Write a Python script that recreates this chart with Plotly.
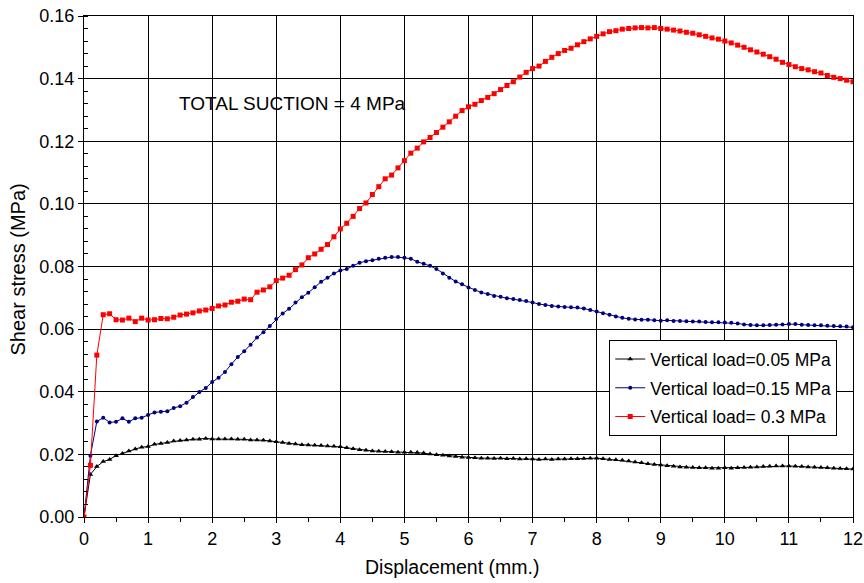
import plotly.graph_objects as go

displacement = [0.0, 0.1, 0.2, 0.3, 0.4, 0.5, 0.6, 0.7, 0.8, 0.9,
                1.0, 1.1, 1.2, 1.3, 1.4, 1.5, 1.6, 1.7, 1.8, 1.9,
                2.0, 2.1, 2.2, 2.3, 2.4, 2.5, 2.6, 2.7, 2.8, 2.9,
                3.0, 3.1, 3.2, 3.3, 3.4, 3.5, 3.6, 3.7, 3.8, 3.9,
                4.0, 4.1, 4.2, 4.3, 4.4, 4.5, 4.6, 4.7, 4.8, 4.9,
                5.0, 5.1, 5.2, 5.3, 5.4, 5.5, 5.6, 5.7, 5.8, 5.9,
                6.0, 6.1, 6.2, 6.3, 6.4, 6.5, 6.6, 6.7, 6.8, 6.9,
                7.0, 7.1, 7.2, 7.3, 7.4, 7.5, 7.6, 7.7, 7.8, 7.9,
                8.0, 8.1, 8.2, 8.3, 8.4, 8.5, 8.6, 8.7, 8.8, 8.9,
                9.0, 9.1, 9.2, 9.3, 9.4, 9.5, 9.6, 9.7, 9.8, 9.9,
                10.0, 10.1, 10.2, 10.3, 10.4, 10.5, 10.6, 10.7, 10.8, 10.9,
                11.0, 11.1, 11.2, 11.3, 11.4, 11.5, 11.6, 11.7, 11.8, 11.9,
                12.0]

load_005 = [0.0, 0.0136, 0.0161, 0.0177, 0.0184, 0.0196, 0.0203, 0.0211, 0.0217, 0.0223,
            0.0225, 0.0232, 0.0235, 0.0238, 0.0243, 0.0244, 0.0246, 0.0248, 0.0248, 0.0251,
            0.0249, 0.0249, 0.0249, 0.0249, 0.0248, 0.0248, 0.0246, 0.0246, 0.0245, 0.0243,
            0.0240, 0.0238, 0.0235, 0.0233, 0.0231, 0.0230, 0.0229, 0.0228, 0.0227, 0.0226,
            0.0224, 0.0221, 0.0218, 0.0215, 0.0213, 0.0211, 0.0210, 0.0209, 0.0208, 0.0207,
            0.0207, 0.0207, 0.0206, 0.0204, 0.0201, 0.0199, 0.0197, 0.0195, 0.0193, 0.0191,
            0.0190, 0.0189, 0.0188, 0.0188, 0.0187, 0.0188, 0.0186, 0.0187, 0.0185, 0.0186,
            0.0185, 0.0184, 0.0185, 0.0184, 0.0185, 0.0185, 0.0186, 0.0186, 0.0187, 0.0188,
            0.0188, 0.0186, 0.0184, 0.0183, 0.0181, 0.0179, 0.0176, 0.0173, 0.0170, 0.0168,
            0.0166, 0.0164, 0.0162, 0.0160, 0.0159, 0.0158, 0.0157, 0.0157, 0.0156, 0.0156,
            0.0157, 0.0156, 0.0157, 0.0158, 0.0159, 0.0160, 0.0161, 0.0162, 0.0163, 0.0163,
            0.0163, 0.0162, 0.0161, 0.0160, 0.0159, 0.0158, 0.0157, 0.0156, 0.0155, 0.0154,
            0.0153]

load_015 = [0.0, 0.0196, 0.0305, 0.0317, 0.0302, 0.0304, 0.0315, 0.0304, 0.0315, 0.0317,
            0.0326, 0.0334, 0.0336, 0.0338, 0.0348, 0.0354, 0.0365, 0.0383, 0.0399, 0.0412,
            0.0431, 0.0445, 0.0463, 0.0488, 0.0511, 0.0529, 0.0550, 0.0573, 0.0590, 0.0610,
            0.0632, 0.0650, 0.0665, 0.0685, 0.0702, 0.0716, 0.0734, 0.0751, 0.0764, 0.0778,
            0.0787, 0.0792, 0.0802, 0.0812, 0.0817, 0.0820, 0.0825, 0.0828, 0.0830, 0.0830,
            0.0828, 0.0825, 0.0815, 0.0809, 0.0802, 0.0792, 0.0778, 0.0764, 0.0752, 0.0743,
            0.0733, 0.0725, 0.0717, 0.0712, 0.0706, 0.0703, 0.0699, 0.0696, 0.0693, 0.0690,
            0.0685, 0.0680, 0.0677, 0.0674, 0.0672, 0.0671, 0.0670, 0.0669, 0.0666, 0.0661,
            0.0656, 0.0651, 0.0646, 0.0640, 0.0636, 0.0633, 0.0631, 0.0630, 0.0630, 0.0628,
            0.0627, 0.0628, 0.0626, 0.0626, 0.0625, 0.0624, 0.0624, 0.0623, 0.0622, 0.0622,
            0.0621, 0.0620, 0.0618, 0.0615, 0.0613, 0.0612, 0.0612, 0.0613, 0.0614, 0.0615,
            0.0616, 0.0616, 0.0614, 0.0613, 0.0612, 0.0612, 0.0611, 0.0610, 0.0609, 0.0608,
            0.0606]

load_030 = [0.0, 0.0165, 0.0517, 0.0646, 0.0649, 0.0630, 0.0629, 0.0635, 0.0624, 0.0635,
            0.0629, 0.0630, 0.0634, 0.0633, 0.0638, 0.0645, 0.0648, 0.0652, 0.0658, 0.0661,
            0.0666, 0.0674, 0.0677, 0.0686, 0.0689, 0.0696, 0.0694, 0.0718, 0.0725, 0.0735,
            0.0755, 0.0763, 0.0772, 0.0790, 0.0805, 0.0828, 0.0840, 0.0855, 0.0870, 0.0895,
            0.0920, 0.0938, 0.0960, 0.0985, 0.1003, 0.1030, 0.1055, 0.1080, 0.1092, 0.1115,
            0.1138, 0.1162, 0.1178, 0.1198, 0.1212, 0.1228, 0.1245, 0.1262, 0.1280, 0.1298,
            0.1310, 0.1318, 0.1330, 0.1340, 0.1352, 0.1365, 0.1378, 0.1390, 0.1405, 0.1420,
            0.1432, 0.1440, 0.1455, 0.1468, 0.1480, 0.1490, 0.1497, 0.1508, 0.1518, 0.1527,
            0.1535, 0.1543, 0.1550, 0.1553, 0.1558, 0.1560, 0.1562, 0.1563, 0.1562, 0.1563,
            0.1560, 0.1558, 0.1555, 0.1552, 0.1548, 0.1545, 0.1540, 0.1535, 0.1530, 0.1526,
            0.1520, 0.1514, 0.1507, 0.1500, 0.1492, 0.1485, 0.1478, 0.1470, 0.1462, 0.1452,
            0.1445, 0.1438, 0.1432, 0.1428, 0.1422, 0.1418, 0.1410, 0.1404, 0.1400, 0.1395,
            0.1390]

series_names = ["Vertical load=0.05 MPa", "Vertical load=0.15 MPa", "Vertical load= 0.3 MPa"]
x_ticks = [0, 1, 2, 3, 4, 5, 6, 7, 8, 9, 10, 11, 12]
y_ticks = [0.00, 0.02, 0.04, 0.06, 0.08, 0.10, 0.12, 0.14, 0.16]
x_title = "Displacement (mm.)"
y_title = "Shear stress (MPa)"
note = "TOTAL SUCTION = 4 MPa"

FONT = "Liberation Sans, Arial, sans-serif"

fig = go.Figure()
styles = [
    (load_005, "#000000", "triangle-up", 5),
    (load_015, "#000080", "circle", 4),
    (load_030, "#FF0000", "square", 5),
]
for i, ((vals, color, sym, size), name) in enumerate(zip(styles, series_names)):
    fig.add_trace(go.Scatter(
        x=displacement, y=vals, name=name, mode="lines+markers",
        legendgroup="g%d" % i,
        line=dict(color=color, width=1),
        marker=dict(color=color, symbol=sym, size=size),
    ))

fig.add_annotation(x=1.45, y=0.1322, xref="x", yref="y", text=note,
                   showarrow=False, xanchor="left", yanchor="middle",
                   font=dict(family=FONT, size=19, color="black"))
# axis titles
fig.add_annotation(x=0.478, y=-0.0998, xref="paper", yref="paper", text=x_title,
                   showarrow=False, xanchor="center", yanchor="middle",
                   font=dict(family=FONT, size=19.5, color="black"))
fig.add_annotation(x=-0.0871, y=0.494, xref="paper", yref="paper", text=y_title,
                   showarrow=False, xanchor="center", yanchor="middle", textangle=-90,
                   font=dict(family=FONT, size=20, color="black"))

fig.update_layout(
    width=864, height=583,
    margin=dict(l=84, r=11, t=16, b=66),
    paper_bgcolor="white", plot_bgcolor="white",
    font=dict(family=FONT, size=18, color="black"),
    showlegend=True,
    legend=dict(x=0.683, y=0.353, xanchor="left", yanchor="top",
                bgcolor="white", bordercolor="black", borderwidth=1,
                font=dict(family=FONT, size=17.5, color="black"),
                tracegroupgap=3, itemwidth=30),
    xaxis=dict(range=[0, 12], tickvals=x_ticks, showgrid=True, gridcolor="black", gridwidth=1,
               showline=True, linecolor="black", linewidth=1, mirror=True, automargin=False,
               ticks="outside", ticklen=5, tickcolor="black", zeroline=False,
               tickfont=dict(size=18),
               minor=dict(dtick=0.5, ticks="outside", ticklen=4, tickcolor="black", showgrid=False)),
    yaxis=dict(range=[0, 0.16], tickvals=y_ticks, tickformat=".2f", showgrid=True,
               gridcolor="black", gridwidth=1, automargin=False,
               showline=True, linecolor="black", linewidth=1, mirror=True,
               ticks="outside", ticklen=5, tickcolor="black", zeroline=False,
               tickfont=dict(size=18),
               minor=dict(dtick=0.004, ticks="inside", ticklen=4, tickcolor="black", showgrid=False)),
)

fig.write_html("out.html")
